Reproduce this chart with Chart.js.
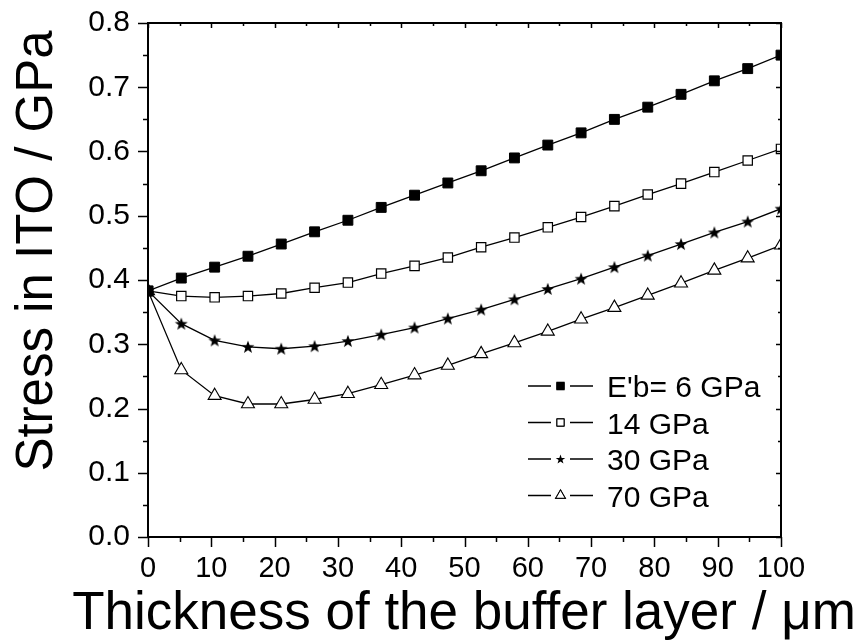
<!DOCTYPE html>
<html>
<head>
<meta charset="utf-8">
<script src="https://cdn.jsdelivr.net/npm/chart.js@4/dist/chart.umd.min.js"></script>
<style>
html,body{margin:0;padding:0;background:#fff;}
#c{display:block;}
</style>
</head>
<body>
<canvas id="c" width="861" height="644"></canvas>
<script>
// ---- data ----
const thickness = [0, 5.26, 10.53, 15.79, 21.05, 26.32, 31.58, 36.84, 42.11, 47.37,
                   52.63, 57.89, 63.16, 68.42, 73.68, 78.95, 84.21, 89.47, 94.74, 100];
const stress6  = [0.383, 0.403, 0.420, 0.437, 0.456, 0.475, 0.493, 0.513, 0.532, 0.551,
                  0.570, 0.590, 0.610, 0.629, 0.650, 0.669, 0.689, 0.710, 0.729, 0.750];
const stress14 = [0.383, 0.375, 0.373, 0.375, 0.379, 0.388, 0.396, 0.410, 0.422, 0.435,
                  0.451, 0.466, 0.482, 0.498, 0.515, 0.533, 0.550, 0.568, 0.586, 0.604];
const stress30 = [0.383, 0.332, 0.306, 0.296, 0.293, 0.297, 0.305, 0.315, 0.326, 0.340,
                  0.354, 0.370, 0.386, 0.402, 0.420, 0.438, 0.456, 0.474, 0.491, 0.511];
const stress70 = [0.383, 0.260, 0.220, 0.207, 0.207, 0.214, 0.223, 0.237, 0.252, 0.267,
                  0.285, 0.302, 0.320, 0.339, 0.357, 0.376, 0.395, 0.415, 0.434, 0.454];
const seriesLabels = ["E'b= 6 GPa", "14 GPa", "30 GPa", "70 GPa"];
const xTickValues = [0, 10, 20, 30, 40, 50, 60, 70, 80, 90, 100];
const yTickValues = [0.0, 0.1, 0.2, 0.3, 0.4, 0.5, 0.6, 0.7, 0.8];
const xTitle = "Thickness of the buffer layer / \u03bcm";
const yTitle = "Stress in ITO / GPa";

const FONT = "'Liberation Sans', Arial, Helvetica, sans-serif";

function starPath(ctx, x, y, R, r) {
  ctx.beginPath();
  for (let k = 0; k < 10; k++) {
    const rad = (k % 2 === 0) ? R : r;
    const a = -Math.PI / 2 + k * Math.PI / 5;
    const px = x + rad * Math.cos(a), py = y + rad * Math.sin(a);
    if (k === 0) ctx.moveTo(px, py); else ctx.lineTo(px, py);
  }
  ctx.closePath();
}
function makeStar(size, R, r) {
  const cv = document.createElement('canvas');
  cv.width = size; cv.height = size;
  const g = cv.getContext('2d');
  g.fillStyle = '#000';
  starPath(g, size / 2, size / 2 + 0.5, R, r);
  g.fill();
  return cv;
}
const starImg = makeStar(16, 6.8, 2.8);

function toPoints(vals) { return thickness.map((t, i) => ({x: t, y: vals[i]})); }

const styles = [
  {pointStyle: 'rect', radius: 7, bg: '#000', bw: 1},
  {pointStyle: 'rect', radius: 6.6, bg: '#fff', bw: 1.2},
  {pointStyle: starImg, radius: 7, bg: '#000', bw: 0},
  {pointStyle: 'triangle', radius: 7.5, bg: '#fff', bw: 1.1}
];
const seriesVals = [stress6, stress14, stress30, stress70];

const datasets = seriesVals.map((v, k) => ({
  label: seriesLabels[k],
  data: toPoints(v),
  borderColor: '#000',
  borderWidth: 1.3,
  pointStyle: styles[k].pointStyle,
  pointRadius: styles[k].radius,
  pointBackgroundColor: styles[k].bg,
  pointBorderColor: '#000',
  pointBorderWidth: styles[k].bw,
  tension: 0,
  fill: false
}));

const framePlugin = {
  id: 'frame',
  afterDraw(chart) {
    const ctx = chart.ctx, a = chart.chartArea;
    const xs = chart.scales.x, ys = chart.scales.y;
    ctx.save();
    ctx.strokeStyle = '#000';
    ctx.lineWidth = 1.5;
    for (let v = 0; v <= 100 + 1e-9; v += 5) {
      const px = Math.round(xs.getPixelForValue(v)) + 0.5;
      const major = Math.abs(v % 10) < 1e-6;
      ctx.beginPath();
      ctx.moveTo(px, a.bottom); ctx.lineTo(px, a.bottom + (major ? 10 : 5));
      ctx.moveTo(px, a.top); ctx.lineTo(px, a.top + (major ? 5 : 3));
      ctx.stroke();
    }
    for (let i = 0; i <= 16; i++) {
      const v = i * 0.05;
      const py = Math.round(ys.getPixelForValue(v)) + 0.5;
      const major = i % 2 === 0;
      ctx.beginPath();
      ctx.moveTo(a.left, py); ctx.lineTo(a.left - (major ? 10 : 5), py);
      ctx.moveTo(a.right, py); ctx.lineTo(a.right - (major ? 5 : 3), py);
      ctx.stroke();
    }
    ctx.lineWidth = 2;
    ctx.strokeRect(a.left, a.top, a.right - a.left, a.bottom - a.top);

    ctx.fillStyle = '#000';
    ctx.font = '53px ' + FONT;
    ctx.textAlign = 'center';
    ctx.textBaseline = 'alphabetic';
    ctx.fillText(xTitle, 464, 629);
    ctx.save();
    ctx.translate(52, 251);
    ctx.rotate(-Math.PI / 2);
    ctx.font = '51px ' + FONT;
    ctx.fillText(yTitle, 0, 0);
    ctx.restore();

    const rowsY = [386, 422.5, 459, 495.5];
    ctx.textAlign = 'left';
    ctx.font = '30px ' + FONT;
    chart.data.datasets.forEach((ds, k) => {
      const y = rowsY[k];
      ctx.lineWidth = 1.3;
      ctx.strokeStyle = '#000';
      ctx.beginPath();
      ctx.moveTo(528, y); ctx.lineTo(551, y);
      ctx.moveTo(570, y); ctx.lineTo(593, y);
      ctx.stroke();
      const mx = 560.5;
      if (k === 2) {
        ctx.fillStyle = '#000';
        starPath(ctx, mx, y + 0.5, 5, 2);
        ctx.fill();
      } else {
        Chart.helpers.drawPoint(ctx, {
          pointStyle: k === 3 ? 'triangle' : 'rect',
          radius: k === 3 ? 5.5 : 5,
          borderWidth: 1,
          rotation: 0
        }, mx, y);
        ctx.fillStyle = k === 0 ? '#000' : '#fff';
        ctx.strokeStyle = '#000';
        ctx.lineWidth = 1;
        ctx.fill();
        ctx.stroke();
      }
      ctx.fillStyle = '#000';
      ctx.fillText(ds.label, 607, y + 11);
    });
    ctx.restore();
  }
};

new Chart(document.getElementById('c'), {
  type: 'line',
  data: {datasets},
  options: {
    responsive: false,
    devicePixelRatio: 1,
    animation: false,
    events: [],
    layout: {padding: {top: 23, right: 80, left: 0, bottom: 0}},
    plugins: {legend: {display: false}, tooltip: {enabled: false}},
    scales: {
      x: {
        type: 'linear', min: 0, max: 100,
        afterFit(s) { s.height = 107; s.paddingLeft = 0; s.paddingRight = 0; },
        afterBuildTicks(s) { s.ticks = xTickValues.map(v => ({value: v})); },
        grid: {display: false},
        border: {display: false},
        ticks: {
          color: '#000', padding: 7, maxRotation: 0, autoSkip: false,
          font: {family: FONT, size: 29},
          callback: v => String(v)
        }
      },
      y: {
        type: 'linear', min: 0, max: 0.8,
        afterFit(s) { s.width = 148; s.paddingTop = 0; s.paddingBottom = 0; },
        afterBuildTicks(s) { s.ticks = yTickValues.map(v => ({value: v})); },
        grid: {display: false},
        border: {display: false},
        ticks: {
          color: '#000', padding: 10, autoSkip: false,
          font: {family: FONT, size: 30},
          callback: v => Number(v).toFixed(1)
        }
      }
    }
  },
  plugins: [framePlugin]
});
</script>
</body>
</html>
